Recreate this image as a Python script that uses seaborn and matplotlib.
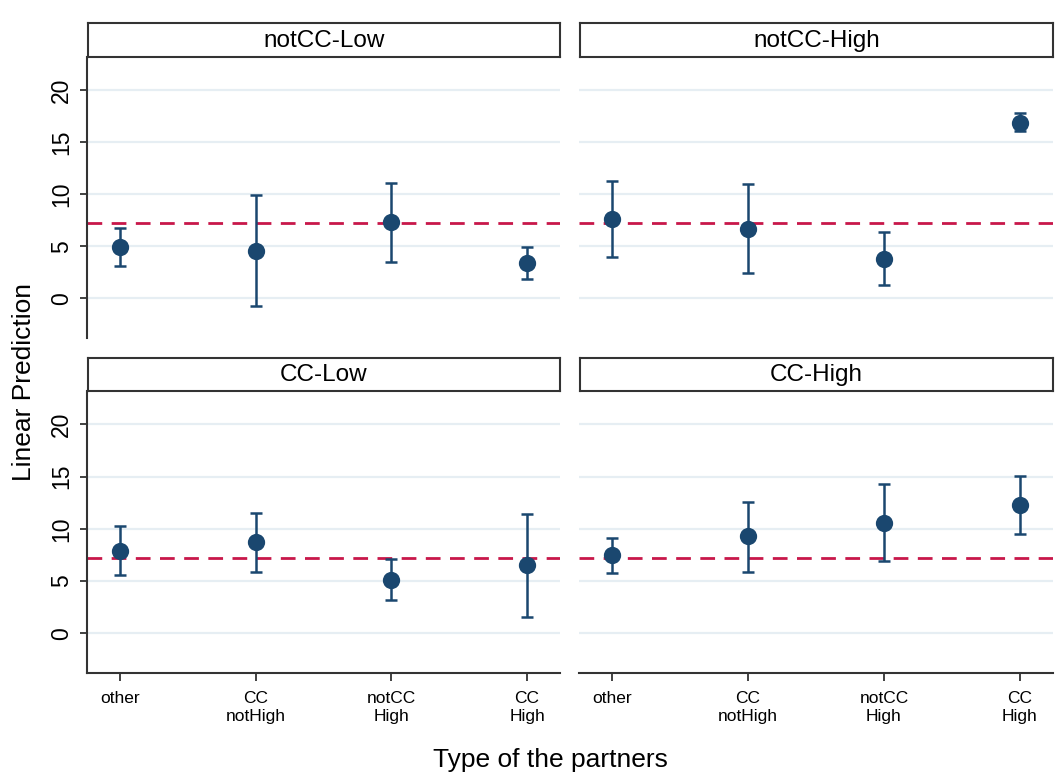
#!/usr/bin/env python

import numpy as np
import pandas as pd
import seaborn as sns
import matplotlib.pyplot as plt

# Categories and panels
partner_types = ['other', 'CC\nnotHigh', 'notCC\nHigh', 'CC\nHigh']
panels = ['notCC-Low', 'notCC-High', 'CC-Low', 'CC-High']

# Linear predictions with lower/upper CI per panel
pred_notcc_low = [4.9, 4.6, 7.3, 3.4]
lo_notcc_low = [3.1, -0.7, 3.5, 1.9]
hi_notcc_low = [6.8, 9.9, 11.1, 4.9]

pred_notcc_high = [7.6, 6.7, 3.8, 16.9]
lo_notcc_high = [4.0, 2.4, 1.3, 16.1]
hi_notcc_high = [11.3, 11.0, 6.4, 17.8]

pred_cc_low = [7.9, 8.7, 5.1, 6.5]
lo_cc_low = [5.6, 5.9, 3.2, 1.6]
hi_cc_low = [10.3, 11.5, 7.1, 11.4]

pred_cc_high = [7.5, 9.3, 10.6, 12.3]
lo_cc_high = [5.8, 5.9, 6.9, 9.5]
hi_cc_high = [9.1, 12.6, 14.3, 15.1]

ref_line = 7.25
yticks = [0, 5, 10, 15, 20]

# Build long table
rows = []
for p, pr, lo, hi in zip(panels,
                         [pred_notcc_low, pred_notcc_high, pred_cc_low, pred_cc_high],
                         [lo_notcc_low, lo_notcc_high, lo_cc_low, lo_cc_high],
                         [hi_notcc_low, hi_notcc_high, hi_cc_low, hi_cc_high]):
    for t, v, l, h in zip(partner_types, pr, lo, hi):
        rows.append({'panel': p, 'type': t, 'pred': v, 'lo': l, 'hi': h})
df = pd.DataFrame(rows)
df['type'] = pd.Categorical(df['type'], categories=partner_types, ordered=True)

navy = '#1a476f'
cranberry = '#c8174a'
grid_c = '#e6eef3'

sns.set_style('white')
plt.rcParams['font.family'] = ['Liberation Sans', 'DejaVu Sans']
plt.rcParams['text.color'] = 'black'
plt.rcParams['xtick.color'] = 'black'
plt.rcParams['ytick.color'] = 'black'

W, H = 1063, 776
fig = plt.figure(figsize=(W / 100, H / 100), dpi=100)

# pixel boxes: (left, top, right, bottom)
plot_boxes = {
    'notCC-Low': (87, 57, 560, 338),
    'notCC-High': (579, 57, 1053, 338),
    'CC-Low': (87, 391, 560, 673),
    'CC-High': (579, 391, 1053, 673),
}
strip_boxes = {
    'notCC-Low': (88, 23, 560, 57),
    'notCC-High': (580, 23, 1053, 57),
    'CC-Low': (88, 358, 560, 391),
    'CC-High': (580, 358, 1053, 391),
}


def to_frac(box):
    l, t, r, b = box
    return [l / W, 1 - b / H, (r - l) / W, (b - t) / H]


for i, p in enumerate(panels):
    ax = fig.add_axes(to_frac(plot_boxes[p]))
    sub = df[df['panel'] == p]
    xpos = np.arange(len(partner_types))

    for y in yticks:
        ax.axhline(y, color=grid_c, lw=1.6, zorder=0)
    ax.axhline(ref_line, color=cranberry, lw=2, dashes=(5.3, 3.4), zorder=1)

    ax.errorbar(xpos, sub['pred'], yerr=[sub['pred'] - sub['lo'], sub['hi'] - sub['pred']],
                fmt='none', ecolor=navy, elinewidth=1.8, capsize=4.5, capthick=1.8, zorder=2)
    sns.scatterplot(data=sub, x='type', y='pred', ax=ax, color=navy, s=155,
                    edgecolor=navy, linewidth=0, zorder=3, legend=False)

    ax.set_xlim(-0.243, 3.243)
    ax.set_ylim(-3.8, 23.2)
    ax.set_xlabel('')
    ax.set_ylabel('')
    for s in ax.spines.values():
        s.set_visible(False)
        s.set_color('#333333')
        s.set_linewidth(1.5)

    left = i % 2 == 0
    bottom = i >= 2
    if left:
        ax.spines['left'].set_visible(True)
        ax.set_yticks(yticks)
        ax.set_yticklabels([str(v) for v in yticks], rotation=90, va='center', fontsize=16.5)
        ax.tick_params(axis='y', length=5, width=1.3, color='#333333', pad=5, left=True)
    else:
        ax.set_yticks([])
    if bottom:
        ax.spines['bottom'].set_visible(True)
        ax.set_xticks(xpos)
        ax.set_xticklabels(partner_types, fontsize=12.5, linespacing=1.25)
        ax.tick_params(axis='x', length=6, width=1.3, color='#333333', pad=7, bottom=True)
    else:
        ax.set_xticks([])

    # strip title
    sax = fig.add_axes(to_frac(strip_boxes[p]))
    sax.set_xticks([])
    sax.set_yticks([])
    for s in sax.spines.values():
        s.set_visible(True)
        s.set_color('#333333')
        s.set_linewidth(1.5)
    sax.text(0.5, 0.48, p, ha='center', va='center', fontsize=17.5, transform=sax.transAxes)

fig.text(24 / W, 1 - 382 / H, 'Linear Prediction', rotation=90, ha='center', va='center', fontsize=19)
fig.text(550 / W, 1 - 760 / H, 'Type of the partners', ha='center', va='center', fontsize=19)

fig.savefig('out.png', dpi=100)
